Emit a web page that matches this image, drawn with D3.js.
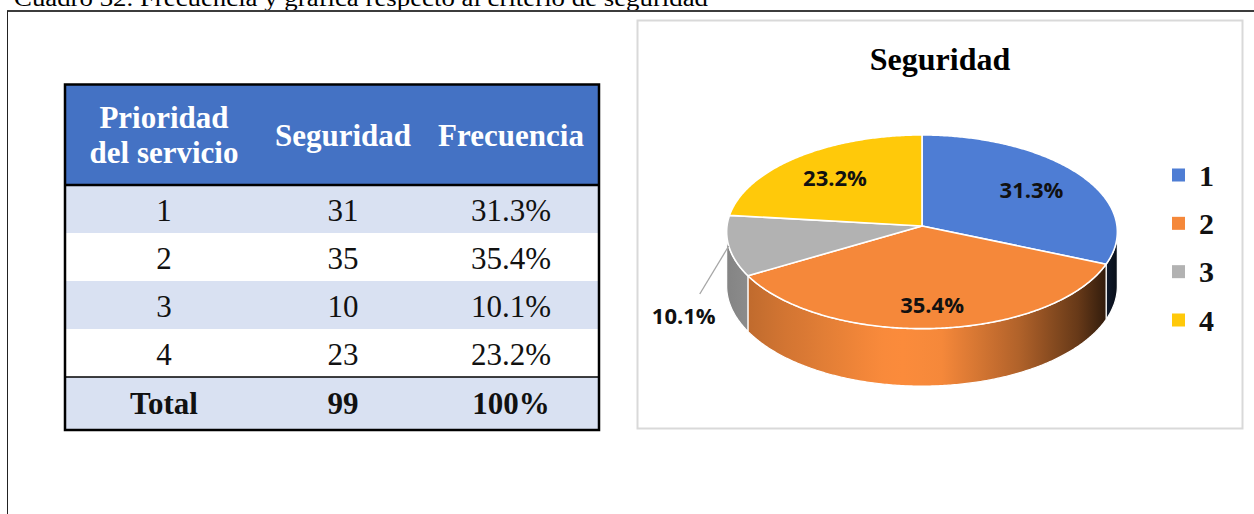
<!DOCTYPE html>
<html>
<head>
<meta charset="utf-8">
<script src="https://cdn.jsdelivr.net/npm/d3@7"></script>
<style>
  html, body { margin: 0; padding: 0; background: #ffffff; }
  svg { display: block; }
</style>
</head>
<body>
<svg id="chart" width="1254" height="514"></svg>
<script>
// ---- data ----
const caption = "Cuadro 32. Frecuencia y gráfica respecto al criterio de seguridad";
const chartTitle = "Seguridad";
const headerLines = [["Prioridad", "del servicio"], ["Seguridad"], ["Frecuencia"]];
const categories = ["1", "2", "3", "4"];
const counts = [31, 35, 10, 23];
const totalLabel = "Total";
const sliceColors = ["#4E7DD4", "#F5883A", "#B2B2B2", "#FFC90A"];

// ---- derived values ----
const total = d3.sum(counts);
const pct = d3.format(".1%");
const pctWhole = d3.format(".0%");

const svg = d3.select("#chart");
const serif = "'Liberation Serif', 'Times New Roman', serif";
const sans = "'Open Sans', 'Noto Sans', sans-serif";

// ---- caption and page frame ----
svg.append("text")
  .attr("x", 14).attr("y", 6)
  .attr("font-family", serif).attr("font-size", 24)
  .attr("textLength", 694).attr("lengthAdjust", "spacingAndGlyphs")
  .attr("fill", "#000")
  .text(caption);

svg.append("line").attr("x1", 7).attr("x2", 1254).attr("y1", 11).attr("y2", 11)
  .attr("stroke", "#3c3c3c").attr("stroke-width", 2);
svg.append("line").attr("x1", 7.5).attr("x2", 7.5).attr("y1", 11).attr("y2", 514)
  .attr("stroke", "#222").attr("stroke-width", 1);

// ---- table ----
const table = { x0: 65, x1: 599, top: 85, headBottom: 185 };
const colX = [164, 343, 511];
const rowY = d3.scaleBand().domain(d3.range(categories.length)).range([185, 377]);
const totalRow = { top: 377, bottom: 430 };
const tg = svg.append("g");

tg.append("rect")
  .attr("x", table.x0).attr("y", table.top)
  .attr("width", table.x1 - table.x0).attr("height", table.headBottom - table.top)
  .attr("fill", "#4472C4");

const rows = categories.map((c, i) => [c, String(counts[i]), pct(counts[i] / total)]);

tg.selectAll("rect.band").data(rows).join("rect")
  .attr("class", "band")
  .attr("x", table.x0).attr("y", (d, i) => rowY(i))
  .attr("width", table.x1 - table.x0).attr("height", rowY.bandwidth())
  .attr("fill", (d, i) => i % 2 === 0 ? "#D9E1F2" : "#FFFFFF");

tg.append("rect")
  .attr("x", table.x0).attr("y", totalRow.top)
  .attr("width", table.x1 - table.x0).attr("height", totalRow.bottom - totalRow.top)
  .attr("fill", "#D9E1F2");

// header text
headerLines.forEach((lines, ci) => {
  const base = lines.length === 1 ? 146 : 128;
  lines.forEach((t, li) => {
    tg.append("text")
      .attr("x", colX[ci]).attr("y", base + li * 35)
      .attr("text-anchor", "middle")
      .attr("font-family", serif).attr("font-weight", "bold").attr("font-size", 31)
      .attr("fill", "#FFFFFF")
      .text(t);
  });
});

// body rows
rows.forEach((r, i) => {
  r.forEach((t, ci) => {
    tg.append("text")
      .attr("x", colX[ci]).attr("y", rowY(i) + rowY.bandwidth() * 0.6 + 7)
      .attr("text-anchor", "middle")
      .attr("font-family", serif).attr("font-size", 31)
      .attr("fill", "#111")
      .text(t);
  });
});

// total row
[totalLabel, String(total), pctWhole(1)].forEach((t, ci) => {
  tg.append("text")
    .attr("x", colX[ci]).attr("y", 414)
    .attr("text-anchor", "middle")
    .attr("font-family", serif).attr("font-weight", "bold").attr("font-size", 31)
    .attr("fill", "#111")
    .text(t);
});

// table rules
tg.append("line").attr("x1", table.x0).attr("x2", table.x1)
  .attr("y1", table.headBottom).attr("y2", table.headBottom)
  .attr("stroke", "#000").attr("stroke-width", 2.5);
tg.append("line").attr("x1", table.x0).attr("x2", table.x1)
  .attr("y1", totalRow.top).attr("y2", totalRow.top)
  .attr("stroke", "#000").attr("stroke-width", 1.5);
tg.append("rect")
  .attr("x", table.x0).attr("y", table.top - 0.5)
  .attr("width", table.x1 - table.x0).attr("height", totalRow.bottom - table.top + 0.5)
  .attr("fill", "none").attr("stroke", "#000").attr("stroke-width", 2.5);

// ---- chart area ----
svg.append("rect")
  .attr("x", 637.5).attr("y", 20.5).attr("width", 605).attr("height", 408)
  .attr("fill", "#FFFFFF").attr("stroke", "#D9D9D9").attr("stroke-width", 2);

svg.append("text")
  .attr("x", 940).attr("y", 70)
  .attr("text-anchor", "middle")
  .attr("font-family", serif).attr("font-weight", "bold").attr("font-size", 32)
  .attr("fill", "#000")
  .text(chartTitle);

// 3-D pie: a tilted disc seen with mild perspective
const pie3d = { cx: 922, cy: 226, rx: 195, ry: 96.5, depth: 54, k: 0.06 };
function project(theta, r = 1, h = 0) {
  const X = Math.sin(theta) * r, Z = Math.cos(theta) * r;
  const s = 1 / (1 + pie3d.k * Z);
  return [pie3d.cx + pie3d.rx * X * s, pie3d.cy - pie3d.ry * Z * s + h * s];
}
function arcPoints(a, b, h = 0) {
  const n = Math.max(2, Math.ceil(Math.abs(b - a) / 0.01));
  return d3.range(n + 1).map(i => project(a + (b - a) * i / n, 1, h));
}

const arcs = d3.pie().sort(null).value(d => d)(counts);
const pg = svg.append("g");

// side wall shading across the width of the disc
const shade = d3.scaleLinear()
  .domain([0, 0.15, 0.42, 0.55, 0.75, 0.9, 1])
  .range([0.74, 0.86, 1.03, 1.0, 0.72, 0.42, 0.12]);
const defs = svg.append("defs");
arcs.forEach((a, i) => {
  const g = defs.append("linearGradient")
    .attr("id", "wall" + i)
    .attr("gradientUnits", "userSpaceOnUse")
    .attr("x1", pie3d.cx - pie3d.rx).attr("x2", pie3d.cx + pie3d.rx)
    .attr("y1", 0).attr("y2", 0);
  const c = d3.rgb(sliceColors[i]);
  d3.range(0, 1.0001, 0.05).forEach(u => {
    const m = shade(u);
    g.append("stop").attr("offset", u)
      .attr("stop-color", d3.rgb(Math.min(255, c.r * m), Math.min(255, c.g * m), Math.min(255, c.b * m)).formatHex());
  });
});

// visible outer walls lie between the two silhouette angles
const thetaR = Math.acos(-pie3d.k), thetaL = 2 * Math.PI - thetaR;
const line = d3.line();
arcs.forEach((a, i) => {
  const lo = Math.max(a.startAngle, thetaR), hi = Math.min(a.endAngle, thetaL);
  if (lo >= hi) return;
  const pts = arcPoints(lo, hi, 0).concat(arcPoints(hi, lo, pie3d.depth));
  pg.append("path")
    .attr("d", line(pts) + "Z")
    .attr("fill", `url(#wall${i})`)
    .attr("stroke", "#FFFFFF").attr("stroke-width", 1.2).attr("stroke-linejoin", "round");
});

// top faces
arcs.forEach((a, i) => {
  const pts = [project(0, 0)].concat(arcPoints(a.startAngle, a.endAngle, 0));
  pg.append("path")
    .attr("d", line(pts) + "Z")
    .attr("fill", sliceColors[i])
    .attr("stroke", "#FFFFFF").attr("stroke-width", 1.6).attr("stroke-linejoin", "round");
});

// data labels
const labelRadius = [0.69, 0.78, null, 0.69];
const lg = svg.append("g")
  .attr("font-family", sans).attr("font-weight", "bold").attr("font-size", 22)
  .attr("fill", "#111").attr("text-anchor", "middle");
arcs.forEach((a, i) => {
  const mid = (a.startAngle + a.endAngle) / 2;
  const text = pct(a.value / total);
  if (labelRadius[i] != null) {
    const [x, y] = project(mid, labelRadius[i]);
    lg.append("text").attr("x", x).attr("y", y).attr("dy", "0.36em").text(text);
  } else {
    // outside label with a leader line from the rim
    const [sx, sy] = project(mid, 1, 0);
    const ex = sx - 29, ey = sy + 48;
    svg.append("line")
      .attr("x1", sx).attr("y1", sy).attr("x2", ex).attr("y2", ey)
      .attr("stroke", "#A6A6A6").attr("stroke-width", 1.3);
    lg.append("text").attr("x", ex - 16).attr("y", ey + 22).attr("dy", "0.36em").text(text);
  }
});

// legend
const legY = d3.scalePoint().domain(categories).range([175, 320]);
const leg = svg.append("g");
categories.forEach((c, i) => {
  leg.append("rect")
    .attr("x", 1172).attr("y", legY(c) - 6.5).attr("width", 13).attr("height", 13)
    .attr("fill", sliceColors[i]);
  leg.append("text")
    .attr("x", 1199).attr("y", legY(c)).attr("dy", "0.36em")
    .attr("font-family", serif).attr("font-weight", "bold").attr("font-size", 30)
    .attr("fill", "#111")
    .text(c);
});
</script>
</body>
</html>
